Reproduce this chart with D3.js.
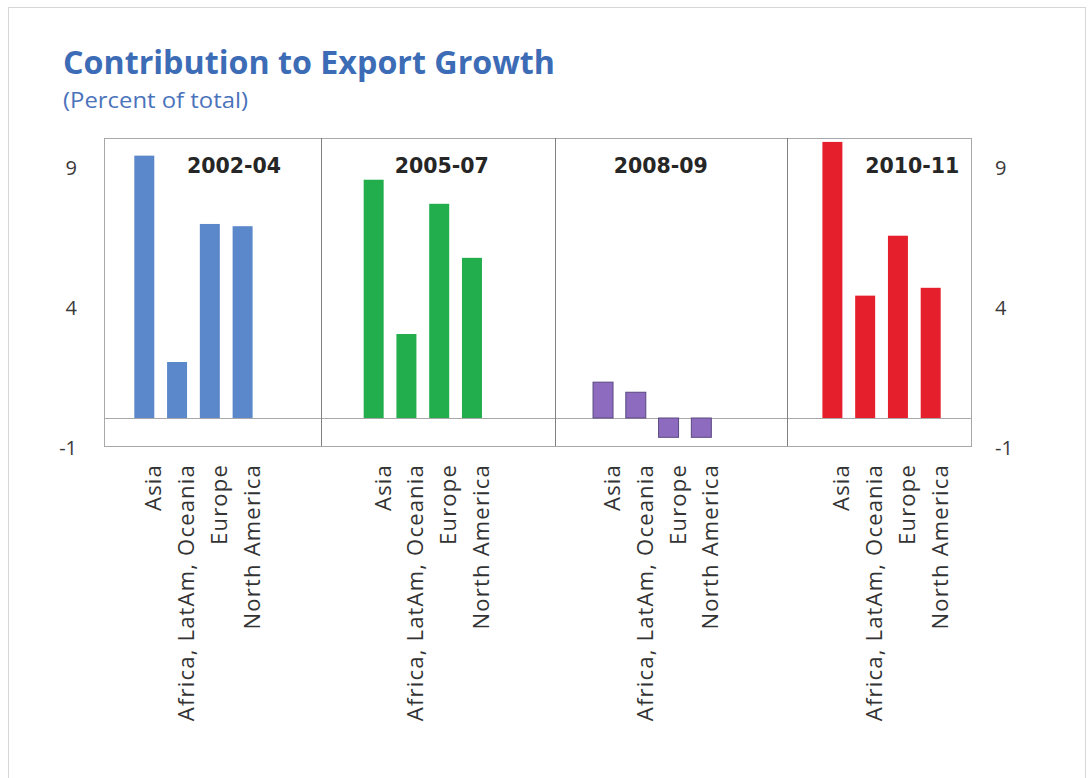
<!DOCTYPE html>
<html>
<head>
<meta charset="utf-8">
<script src="https://cdn.jsdelivr.net/npm/d3@7/dist/d3.min.js"></script>
<style>
  html, body { margin: 0; padding: 0; background: #ffffff; }
  svg { display: block; }
</style>
</head>
<body>
<svg id="chart" width="1092" height="778"></svg>
<script>
// ---- data -------------------------------------------------------------
const periods = ["2002-04", "2005-07", "2008-09", "2010-11"];
const regions = ["Asia", "Africa, LatAm, Oceania", "Europe", "North America"];
const contrib2002_04 = [9.37, 2.0, 6.93, 6.85];
const contrib2005_07 = [8.51, 3.0, 7.65, 5.72];
const contrib2008_09 = [1.28, 0.92, -0.69, -0.69];
const contrib2010_11 = [9.86, 4.37, 6.51, 4.65];
const yTickValues = [-1, 4, 9];
const yDomain = [-1, 10];

// ---- style ------------------------------------------------------------
const periodFill = ["#5b87cb", "#22ae4c", "#8d6cbf", "#e5202c"];
const periodStroke = [null, null, "#5a4880", null];

const W = 1092, H = 778;
const plot = { left: 104, right: 971, top: 138, bottom: 446 };
const slotsPerGroup = 7;      // 4 bars + 3 empty slots between groups
const nSlots = slotsPerGroup * (periods.length - 1) + regions.length;
const dividerSlots = [5.38, 12.52, 19.6];   // panel separators, in slot units
const periodLabelSlots = [2.74, 9.08, 15.76, 23.44];

const series = [contrib2002_04, contrib2005_07, contrib2008_09, contrib2010_11];
const rows = [];
series.forEach((vals, g) => vals.forEach((v, k) => rows.push({
  g, k, slot: g * slotsPerGroup + k, region: regions[k], value: v
})));

const svg = d3.select("#chart");

// outer frame
svg.append("rect")
  .attr("x", 8.5).attr("y", 7.5)
  .attr("width", 1077).attr("height", H + 10)
  .attr("fill", "#fff").attr("stroke", "#d6d6d6");

// ---- scales -----------------------------------------------------------
const x = d3.scalePoint()
  .domain(d3.range(nSlots))
  .range([plot.left, plot.right])
  .padding(1.23);
const xf = d3.scaleLinear()
  .domain([0, nSlots - 1])
  .range([x(0), x(nSlots - 1)]);
const y = d3.scaleLinear().domain(yDomain).range([plot.bottom, plot.top]);
const barW = x.step() * 0.61;

// ---- title ------------------------------------------------------------
svg.append("text")
  .attr("x", 63).attr("y", 74)
  .attr("font-family", "'Open Sans', sans-serif")
  .attr("font-weight", 700)
  .attr("font-size", 32)
  .attr("fill", "#3d6cb6")
  .attr("textLength", 492).attr("lengthAdjust", "spacingAndGlyphs")
  .text("Contribution to Export Growth");

svg.append("text")
  .attr("x", 63).attr("y", 108)
  .attr("font-family", "'Open Sans', sans-serif")
  .attr("font-size", 21.5)
  .attr("fill", "#4a73bb")
  .attr("textLength", 185).attr("lengthAdjust", "spacingAndGlyphs")
  .text("(Percent of total)");

// ---- plot frame -------------------------------------------------------
const g = svg.append("g");

g.append("rect")
  .attr("x", plot.left + 0.5).attr("y", plot.top + 0.5)
  .attr("width", plot.right - plot.left).attr("height", plot.bottom - plot.top)
  .attr("fill", "none").attr("stroke", "#a8a8a8");

g.append("line")
  .attr("x1", plot.left).attr("x2", plot.right)
  .attr("y1", Math.round(y(0)) + 0.5).attr("y2", Math.round(y(0)) + 0.5)
  .attr("stroke", "#a8a8a8");

g.selectAll("line.divider")
  .data(dividerSlots)
  .join("line")
  .attr("class", "divider")
  .attr("x1", d => Math.round(xf(d)) + 0.5).attr("x2", d => Math.round(xf(d)) + 0.5)
  .attr("y1", plot.top).attr("y2", plot.bottom)
  .attr("stroke", "#808080");

// ---- bars -------------------------------------------------------------
g.selectAll("rect.bar")
  .data(rows)
  .join("rect")
  .attr("class", "bar")
  .attr("x", d => x(d.slot) - barW / 2)
  .attr("width", barW)
  .attr("y", d => y(Math.max(0, d.value)))
  .attr("height", d => Math.abs(y(d.value) - y(0)))
  .attr("fill", d => periodFill[d.g])
  .attr("stroke", d => periodStroke[d.g] || "none")
  .attr("stroke-width", 1);

// ---- period labels ----------------------------------------------------
g.selectAll("text.period")
  .data(periods)
  .join("text")
  .attr("class", "period")
  .attr("x", (d, i) => xf(periodLabelSlots[i]))
  .attr("y", 173)
  .attr("text-anchor", "middle")
  .attr("font-family", "'DejaVu Sans', sans-serif")
  .attr("font-weight", 700)
  .attr("font-size", 20.5)
  .attr("fill", "#262626")
  .text(d => d);

// ---- y axes (left and right) -----------------------------------------
const tickFont = "'Open Sans', sans-serif";
const fmt = d => String(d);
const leftAxis = d3.axisLeft(y).tickValues(yTickValues).tickSize(0).tickPadding(0).tickFormat(fmt);
const rightAxis = d3.axisRight(y).tickValues(yTickValues).tickSize(0).tickPadding(0).tickFormat(fmt);

const la = svg.append("g").attr("transform", "translate(77,2)").call(leftAxis);
const ra = svg.append("g").attr("transform", "translate(995,2)").call(rightAxis);
[la, ra].forEach(a => {
  a.select(".domain").remove();
  a.selectAll("text")
    .attr("font-family", tickFont)
    .attr("font-size", 20)
    .attr("fill", "#3a3a3a");
});

// ---- category labels --------------------------------------------------
g.selectAll("text.cat")
  .data(rows)
  .join("text")
  .attr("class", "cat")
  .attr("transform", d => `translate(${x(d.slot) + 17},464) rotate(-90)`)
  .attr("text-anchor", "end")
  .attr("font-family", "'Open Sans', sans-serif")
  .attr("font-size", 22)
  .attr("letter-spacing", 1.2)
  .attr("fill", "#333333")
  .text(d => d.region);
</script>
</body>
</html>
